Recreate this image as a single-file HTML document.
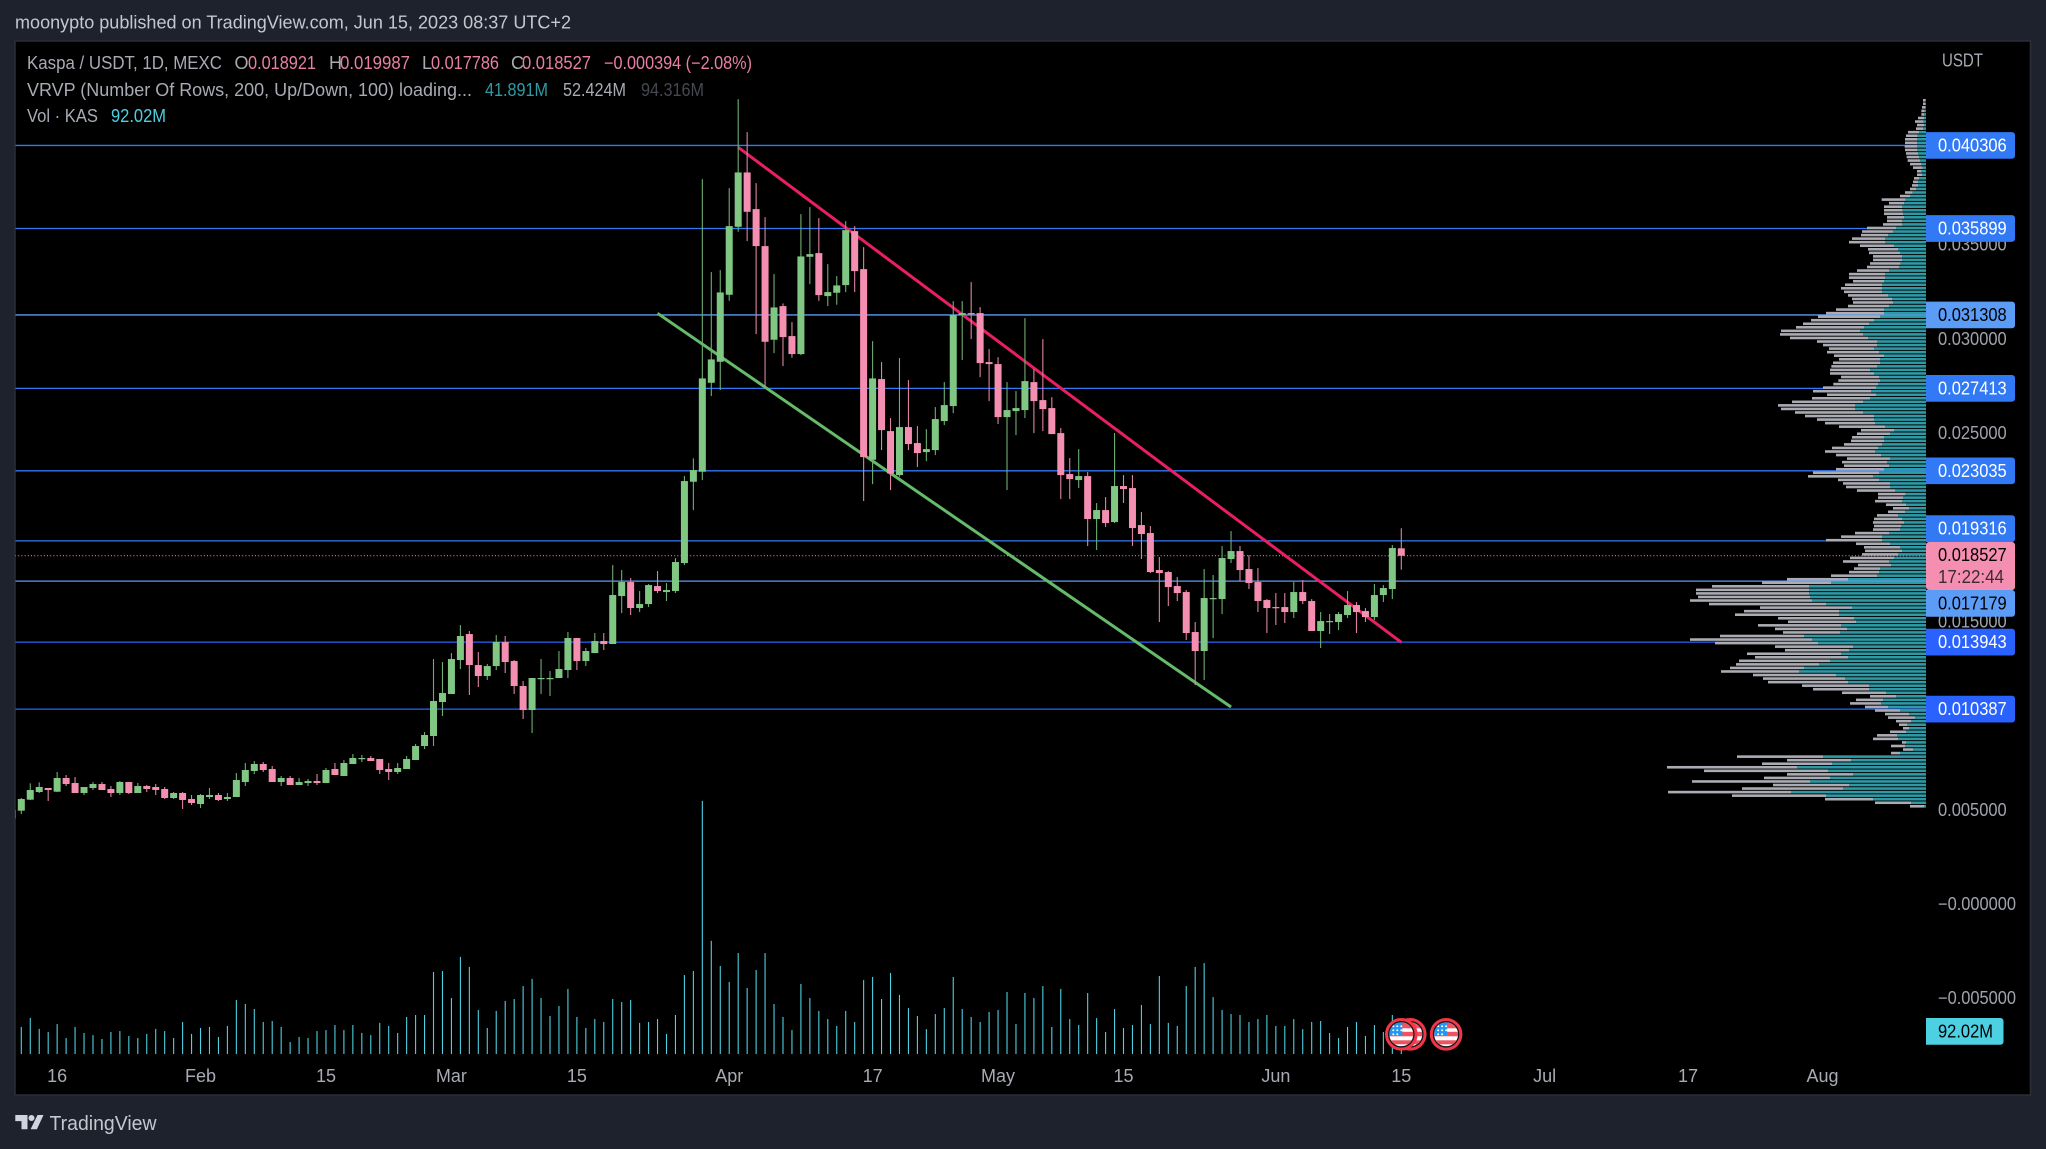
<!DOCTYPE html>
<html lang="en">
<head>
<meta charset="utf-8">
<title>Kaspa / USDT chart</title>
<style>
html,body{margin:0;padding:0;background:#1e222d;width:2046px;height:1149px;overflow:hidden}
svg{display:block;font-family:"Liberation Sans",sans-serif}
.legend{font-size:18px;fill:#a8abb4}
.pink{fill:#e8809f}
.tick{font-size:18px;fill:#a0a3ac}
.axis{font-size:18px;fill:#a8abb4}
.lvl-strong{stroke:#2962ff;fill:#2962ff}
.lvl-mid{stroke:#3179f5;fill:#3179f5}
.lvl-light{stroke:#5b9cf6;fill:#5b9cf6}
</style>
</head>
<body>
<svg id="chart" xmlns="http://www.w3.org/2000/svg" width="2046" height="1149" viewBox="0 0 2046 1149">
  <defs>
    <clipPath id="plot-clip"><rect x="15.5" y="41.5" width="2015" height="1053"/></clipPath>
    <clipPath id="flag-clip"><circle cx="0" cy="0" r="12"/></clipPath>
    <g id="flag-symbol">
      <circle cx="0" cy="0" r="14.8" fill="#131722" stroke="#f23645" stroke-width="3"/>
      <g clip-path="url(#flag-clip)">
        <rect x="-12" y="-12" width="24" height="24" fill="#fff"/>
        <rect x="-12" y="-12" width="24" height="6" fill="#f0535d"/>
        <rect x="-12" y="-2.5" width="24" height="4.5" fill="#f0535d"/>
        <rect x="-12" y="6" width="24" height="4" fill="#f0535d"/>
        <rect x="-12" y="-12" width="13" height="13" fill="#2196f3"/>
        <circle cx="-8" cy="-8" r="1" fill="#fff"/><circle cx="-4" cy="-8" r="1" fill="#fff"/><circle cx="0" cy="-8" r="1" fill="#fff"/>
        <circle cx="-8" cy="-4" r="1" fill="#fff"/><circle cx="-4" cy="-4" r="1" fill="#fff"/><circle cx="0" cy="-4" r="1" fill="#fff"/>
        <circle cx="-8" cy="0" r="1" fill="#fff"/><circle cx="-4" cy="0" r="1" fill="#fff"/>
      </g>
    </g>
  </defs>

  <rect x="0" y="0" width="2046" height="1149" fill="#1e222d"/>
  <text x="15" y="28.5" font-size="18" fill="#c4c7cf" textLength="556" lengthAdjust="spacingAndGlyphs">moonypto published on TradingView.com, Jun 15, 2023 08:37 UTC+2</text>
  <rect x="15" y="41" width="2015.5" height="1054" fill="#000" stroke="#2a2e39" stroke-width="1.5"/>

  <g id="levels" clip-path="url(#plot-clip)"></g>
  <g id="trendlines" clip-path="url(#plot-clip)"></g>
  <g id="volumes" clip-path="url(#plot-clip)"></g>
  <g id="candles" clip-path="url(#plot-clip)"></g>
  <g id="profile"></g>
  <g id="flags"></g>
  <g id="price-ticks"></g>
  <g id="time-ticks"></g>
  <g id="level-labels"></g>

  <g>
    <rect id="current-box" x="1926" y="542" width="89" height="48" rx="3" fill="#f48fb1"/>
    <text id="current-text" x="1938" y="561" font-size="18" fill="#000" textLength="68.7" lengthAdjust="spacingAndGlyphs">0.018527</text>
    <text x="1938" y="583" font-size="18" fill="#3c2a31" textLength="66" lengthAdjust="spacingAndGlyphs">17:22:44</text>
  </g>

  <g>
    <path d="M1926 1018h74.5a3 3 0 0 1 3 3v20.7a3 3 0 0 1-3 3h-74.5z" fill="#4dd0e1"/>
    <text x="1938" y="1037.5" font-size="18" fill="#000" textLength="55" lengthAdjust="spacingAndGlyphs">92.02M</text>
  </g>

  <text x="1942" y="66.5" font-size="18" fill="#a8abb4" textLength="41" lengthAdjust="spacingAndGlyphs">USDT</text>

  <g>
    <text class="legend" x="27" y="69" textLength="195" lengthAdjust="spacingAndGlyphs">Kaspa / USDT, 1D, MEXC</text>
    <text class="legend" x="234.5" y="69">O</text>
    <text class="legend pink" x="248" y="69" textLength="68" lengthAdjust="spacingAndGlyphs">0.018921</text>
    <text class="legend" x="329" y="69">H</text>
    <text class="legend pink" x="340" y="69" textLength="70" lengthAdjust="spacingAndGlyphs">0.019987</text>
    <text class="legend" x="422" y="69">L</text>
    <text class="legend pink" x="431" y="69" textLength="68" lengthAdjust="spacingAndGlyphs">0.017786</text>
    <text class="legend" x="511" y="69">C</text>
    <text class="legend pink" x="522" y="69" textLength="69" lengthAdjust="spacingAndGlyphs">0.018527</text>
    <text class="legend pink" x="604" y="69" textLength="148" lengthAdjust="spacingAndGlyphs">−0.000394 (−2.08%)</text>
    <text class="legend" x="27" y="96" textLength="445" lengthAdjust="spacingAndGlyphs">VRVP (Number Of Rows, 200, Up/Down, 100) loading...</text>
    <text class="legend" x="485" y="96" style="fill:#2f9aa5" textLength="63" lengthAdjust="spacingAndGlyphs">41.891M</text>
    <text class="legend" x="563" y="96" textLength="63" lengthAdjust="spacingAndGlyphs">52.424M</text>
    <text class="legend" x="641" y="96" style="fill:#46484f" textLength="63" lengthAdjust="spacingAndGlyphs">94.316M</text>
    <text class="legend" x="27" y="122" textLength="71" lengthAdjust="spacingAndGlyphs">Vol · KAS</text>
    <text class="legend" x="111" y="122" style="fill:#4dd0e1" textLength="55" lengthAdjust="spacingAndGlyphs">92.02M</text>
  </g>

  <g>
    <path d="M15.3 1115h12.2v14.3h-6v-8.2h-6.2z" fill="#d1d4dc"/>
    <circle cx="31.5" cy="1118" r="3" fill="#d1d4dc"/>
    <path d="M37.5 1115h6l-6.6 14.3h-6.3z" fill="#d1d4dc"/>
    <text x="49.5" y="1130" font-size="20" fill="#c4c7cf" textLength="107" lengthAdjust="spacingAndGlyphs">TradingView</text>
  </g>
</svg>

<script>
// Prices below are in micro-USDT (1e-6). One entry per day from firstDate.
const firstDate = '2023-01-11';
const opens = [4589,
4996,5580,5987,6199,6004,6730,6464,5934,6199,6411,
6146,5934,6517,5934,6305,6252,6146,5668,5934,5615,
5350,5721,5827,5615,5721,6517,7101,7473,7207,6517,
6730,6358,6464,6570,6464,7207,6836,7473,7738,7791,
7738,7207,7048,7207,7685,8428,8959,10763,11188,12992,
14372,12726,12143,12673,13947,12939,11612,10338,11984,11984,
12037,12461,14160,12939,13363,14000,13841,16388,17131,15752,
15964,16919,16601,16654,18139,22455,22986,27709,28824,32380,
35988,38872,36926,34962,29992,31778,30186,29231,34396,34591,
32309,32486,32892,35758,33741,23623,27904,25144,22809,25357,
24508,24030,24136,25675,26471,31300,31407,31407,28806,28700,
25887,26206,26259,27744,26789,26365,25038,22863,22544,22757,
20475,20952,20316,22226,22120,20156,19732,17768,17662,16919,
16600,14478,13469,16229,16229,18352,18776,17821,17131,16176,
15804,15804,15539,16600,16123,14531,15009,15009,15380,15911,
15592,15274,16441,16760,18921];
const highs = [5031,
5668,6446,6499,6199,7048,6889,6783,6252,6517,6517,
6305,6570,6517,6464,6358,6411,6252,5987,5987,5827,
5880,6199,5934,5934,6995,7526,7632,7579,7366,6836,
6836,6730,6676,6942,7260,7526,7685,8003,7950,7897,
7738,7526,7526,7897,8534,9171,13045,12886,13363,14849,
14531,13417,12780,14319,14266,12992,11878,12037,13045,12408,
13470,14478,14160,13629,14425,14425,18034,17768,17344,16654,
17025,17715,17078,18400,22756,23694,38518,33583,33688,38040,
42764,41012,38306,36501,33476,31920,30929,36660,37032,36448,
34007,33370,36289,36024,34909,29921,28806,25834,29018,27851,
25410,25251,26418,27744,32043,32043,33052,31725,29496,29071,
27744,27267,31141,28435,30027,26949,25303,23712,24190,22969,
21324,21642,25039,22810,22810,20846,20103,18458,17715,17397,
16707,15009,17821,17503,19042,19838,19042,18564,17874,16229,
16547,16547,17131,17237,16229,15539,15433,15539,16654,16070,
15751,17025,16972,19095,19987];
const lows = [4589,
4819,5562,5934,5509,5987,6305,5934,5827,6093,6093,
5721,5827,5880,5934,5987,5827,5615,5615,5084,5297,
5137,5615,5509,5509,5721,6305,6942,7048,6517,6305,
6358,6358,6305,6358,6464,6889,6836,7473,7579,7632,
6942,6623,6942,7207,7685,8269,8428,10020,11188,12514,
11135,11559,11931,12461,12302,11188,9861,9118,11188,11082,
12037,12037,12461,12673,13363,13523,13841,15486,15380,15539,
15805,16548,16123,16548,18033,20951,22544,27002,27320,32061,
35723,35228,30292,27497,29284,28594,29036,29178,32945,32061,
31778,31849,32521,32521,21430,22332,24136,22013,22720,24136,
23234,23552,23871,25463,26099,28912,30027,28010,26736,25516,
22013,24932,25834,25038,25144,24985,21535,21536,22120,19042,
18830,20050,20262,21324,19042,18352,17609,15009,15857,16123,
14053,11665,11930,14159,15433,18140,17184,16760,15539,14425,
14849,14955,15221,15964,14531,13629,14372,14584,15221,14425,
15009,15115,16070,16229,17786];
const closes = [5031,
5615,6093,6252,6093,6730,6411,5934,6252,6411,6093,
5934,6517,5934,6305,6146,6093,5668,5934,5562,5403,
5827,5827,5562,5721,6623,7154,7473,7154,6517,6730,
6358,6517,6570,6464,7154,6889,7526,7791,7791,7632,
7154,7048,7260,7738,8428,9012,10816,11241,13045,14266,
12726,12143,12673,13947,12886,11612,10338,12037,12037,12037,
12514,14160,12939,13470,14000,13841,16442,17131,15752,15964,
16972,16654,16707,18193,22491,23074,27939,28948,32503,36024,
38872,36784,34962,29885,31707,30133,29231,34414,34538,32362,
32521,32875,35811,33635,23764,27939,25197,22897,25357,24455,
23977,24189,25781,26524,31300,31407,31354,28753,28700,25887,
26259,26365,27798,26736,26312,24985,22809,22597,22757,20475,
20952,20262,22226,22067,19997,19679,17662,17609,16866,16547,
14425,13469,16282,16282,18405,18776,17768,17078,16123,15751,
15751,15539,16600,16123,14531,15061,15061,15433,15911,15539,
15274,16441,16813,18936,18527];
// Daily volume, millions of KAS
const volumes = [100,
113,151,105,92,125,67,113,88,79,63,
92,96,75,67,84,105,96,67,134,84,
109,113,71,117,226,209,188,134,138,113,
50,71,67,96,100,121,100,121,88,79,
130,117,88,155,163,163,343,347,234,406,
364,184,109,180,222,230,284,314,234,159,
201,272,155,109,146,134,230,217,226,130,
134,146,84,163,330,347,1058,473,368,301,
422,276,351,422,209,155,100,293,234,180,
146,117,180,134,309,322,230,339,247,192,
159,104,167,192,322,188,155,134,176,184,
259,125,255,234,284,113,272,146,121,255,
150,92,188,109,121,205,125,326,130,117,
284,364,380,238,184,167,163,134,146,163,
117,117,146,104,134,138,88,67,113,134,
75,121,92,163,92];
// Volume profile rows, top price row to bottom price row
const profileUp = [3,3,3,4,5,6,7,6,8,20,
25,26,26,26,26,24,20,18,13,10,
13,12,20,24,24,30,40,48,61,66,
72,70,68,65,71,71,90,98,113,122,
123,96,84,78,72,72,76,81,111,123,
123,126,132,132,132,114,102,99,111,126,
126,138,156,171,186,198,189,174,147,147,
156,141,126,138,138,147,168,156,141,138,
143,150,165,150,168,189,213,213,189,156,
156,153,123,96,108,126,126,132,144,153,
135,108,117,111,126,141,159,141,108,108,
93,61,69,72,60,51,63,84,72,66,
75,78,111,132,132,108,78,72,84,96,
111,105,138,141,147,234,285,351,351,351,
348,342,300,222,261,261,216,210,255,237,
258,366,342,324,219,231,255,234,288,321,
366,381,270,243,234,171,171,120,90,129,
135,114,78,51,33,45,57,51,60,87,
84,60,63,39,78,309,225,282,387,294,
219,288,348,231,249,405,300,159,45,6];
const profileDown = [6,6,9,10,9,18,26,21,22,34,
35,37,37,38,37,36,38,37,35,29,
14,15,16,15,18,18,23,30,72,45,
54,56,58,52,46,58,87,94,82,100,
108,102,90,93,87,87,92,96,96,108,
108,93,111,123,114,120,120,120,123,144,
174,186,189,198,204,237,249,234,180,162,
135,156,150,123,141,137,120,132,114,125,
135,159,174,147,174,213,231,222,204,207,
171,150,138,99,99,96,99,114,138,150,
135,129,135,135,144,198,195,123,141,132,
114,83,75,81,60,48,51,63,84,93,
81,81,102,123,168,102,108,111,108,132,
138,99,78,90,138,183,207,291,339,339,
336,366,351,276,285,312,228,204,249,216,
171,252,366,309,234,192,282,279,273,249,
222,234,249,246,240,201,168,132,78,81,
93,69,75,72,81,45,24,18,48,60,
75,12,42,30,27,258,192,210,390,372,
198,198,354,228,303,369,282,144,108,42];
const profileTopPrice = 0.042797;
const profileBottomPrice = 0.005133;
// Price levels, grouped by their line style
const strongLevels = [0.013943, 0.010387];
const midLevels = [0.040306, 0.035899, 0.027413, 0.023035, 0.019316];
const lightLevels = [0.031308, 0.017179];
const lastPrice = 0.018527;
// Trendlines
const redTrendDates = ['2023-04-02', '2023-06-15'];
const redTrendPrices = [0.040207, 0.013933];
const greenTrendDates = ['2023-03-24', '2023-05-27'];
const greenTrendPrices = [0.031396, 0.010499];
// Axis ticks
const priceTickValues = [0.04, 0.035, 0.03, 0.025, 0.02, 0.015, 0.01, 0.005, 0, -0.005];
const priceTickLabels = ['0.040000','0.035000','0.030000','0.025000','0.020000','0.015000','0.010000','0.005000','−0.000000','−0.005000'];
const timeTickDates = ['2023-01-16','2023-02-01','2023-02-15','2023-03-01','2023-03-15','2023-04-01','2023-04-17','2023-05-01','2023-05-15','2023-06-01','2023-06-15','2023-07-01','2023-07-17','2023-08-01'];
const timeTickLabels = ['16','Feb','15','Mar','15','Apr','17','May','15','Jun','15','Jul','17','Aug'];
const flagDates = ['2023-06-20', '2023-06-16', '2023-06-15'];

const NS = 'http://www.w3.org/2000/svg';
const MICRO = 1e-6;
const DAY = 86400000;
const BAR_STEP = 8.961;
const BAR_ORIGIN = 12.34;
const BODY_W = 7;
const VOL_BASE = 1054;
const VOL_PX_PER_M = 1 / 4.18;
const PROFILE_RIGHT = 1926;
const PROFILE_MAX_W = 259;
const LABEL_H = 26.7;

function xByIndex(i) { return BAR_ORIGIN + BAR_STEP * i; }
function dateIndex(d) { return Math.round((Date.parse(d) - Date.parse(firstDate)) / DAY); }
function xByDate(d) { return xByIndex(dateIndex(d)); }
function yScale(p) { return 904.8 - p * 18840; }
function volHeight(v) { return v * VOL_PX_PER_M; }
function make(parent, tag, attrs) {
  const el = document.createElementNS(NS, tag);
  for (const k in attrs) el.setAttribute(k, attrs[k]);
  parent.appendChild(el);
  return el;
}

const levelsG = document.getElementById('levels');
const labelsG = document.getElementById('level-labels');
const curBoxTop = 542;
const curBoxBottom = 590;

function drawLevel(price, cls) {
  const y = yScale(price);
  const line = make(levelsG, 'line', {x1: 15, x2: PROFILE_RIGHT, y1: y, y2: y, class: cls, 'stroke-width': 1.3});
  
  
  let top = y - LABEL_H / 2;
  if (y < yScale(lastPrice) && top + LABEL_H > curBoxTop) top = curBoxTop - LABEL_H;
  if (y > yScale(lastPrice) && top < curBoxBottom) top = curBoxBottom;
  const box = make(labelsG, 'path', {class: cls, stroke: 'none',
    d: 'M' + PROFILE_RIGHT + ' ' + top + 'h86a3 3 0 0 1 3 3v' + (LABEL_H - 6) + 'a3 3 0 0 1-3 3h-86z', style: 'stroke:none'});
  
  
  const txt = make(labelsG, 'text', {x: 1938, y: top + LABEL_H / 2 + 6, 'font-size': 18, fill: cls === 'lvl-light' ? '#000' : '#fff', textLength: 68.7, lengthAdjust: 'spacingAndGlyphs'});
  
  
  txt.textContent = price.toFixed(6);
}

// price axis labels are painted under the level labels
const priceTicksG = document.getElementById('price-ticks');
priceTickValues.forEach(function (v, i) {
  const negative = priceTickLabels[i].charAt(0) === '−';
  const t = make(priceTicksG, 'text', {x: negative ? 1938 : 1938, y: yScale(v) + 5.2, class: 'tick', textLength: negative ? 78 : 68.7, lengthAdjust: 'spacingAndGlyphs'});
  
  
  t.textContent = priceTickLabels[i];
});

midLevels.forEach(function (p) { drawLevel(p, 'lvl-mid'); });
lightLevels.forEach(function (p) { drawLevel(p, 'lvl-light'); });
strongLevels.forEach(function (p) { drawLevel(p, 'lvl-strong'); });

const lastLine = make(levelsG, 'line', {x1: 15, x2: PROFILE_RIGHT, y1: yScale(lastPrice), y2: yScale(lastPrice), stroke: '#f48fb1', 'stroke-width': 1, 'stroke-dasharray': '1 2.2'});


const curBoxY = yScale(lastPrice);
document.getElementById('current-text').setAttribute('y', curBoxY + 5.2);
document.getElementById('current-text').textContent = lastPrice.toFixed(6);

// trendlines
const trendG = document.getElementById('trendlines');
const redTrend = make(trendG, 'line', {x1: xByDate(redTrendDates[0]), y1: yScale(redTrendPrices[0]), x2: xByDate(redTrendDates[1]), y2: yScale(redTrendPrices[1]), stroke: '#e91e63', 'stroke-width': 3});


const greenTrend = make(trendG, 'line', {x1: xByDate(greenTrendDates[0]), y1: yScale(greenTrendPrices[0]), x2: xByDate(greenTrendDates[1]), y2: yScale(greenTrendPrices[1]), stroke: '#66bb6a', 'stroke-width': 3});



// volume bars
const volG = document.getElementById('volumes');
volumes.forEach(function (v, i) {
  const x = xByIndex(i);
  const bar = make(volG, 'line', {x1: x, x2: x, y1: VOL_BASE, y2: VOL_BASE - volHeight(v), stroke: '#4dd0e1', 'stroke-width': 1.1});
  
  
});

// candles
const candleG = document.getElementById('candles');
opens.forEach(function (o, i) {
  const c = closes[i];
  const up = c >= o;
  const x = xByIndex(i);
  const wick = make(candleG, 'line', {x1: x, x2: x, y1: yScale(highs[i] * MICRO), y2: yScale(lows[i] * MICRO), stroke: up ? '#6fae73' : '#dd83a2', 'stroke-width': 1.1});
  
  
  const yTop = yScale(Math.max(o, c) * MICRO);
  const yBot = yScale(Math.min(o, c) * MICRO);
  const body = make(candleG, 'rect', {x: x - BODY_W / 2, y: yTop, width: BODY_W, height: Math.max(yBot - yTop, 1.2), fill: up ? '#81c784' : '#f48fb1'});
  
  
});

// volume profile
const profG = document.getElementById('profile');
let profileMax = 0;
profileUp.forEach(function (u, i) { profileMax = Math.max(profileMax, u + profileDown[i]); });
const profTopY = yScale(profileTopPrice);
const rowH = (yScale(profileBottomPrice) - profTopY) / profileUp.length;
profileUp.forEach(function (u, i) {
  const y = profTopY + rowH * i + 0.45;
  const upW = u / profileMax * PROFILE_MAX_W;
  const downW = profileDown[i] / profileMax * PROFILE_MAX_W;
  const down = make(profG, 'rect', {x: PROFILE_RIGHT - upW - downW, y: y, width: downW, height: rowH - 0.95, fill: '#aaabb3'});
  
  
  const upR = make(profG, 'rect', {x: PROFILE_RIGHT - upW, y: y, width: upW, height: rowH - 0.95, fill: '#2f9aa5'});
  
  
});

// flags
const flagsG = document.getElementById('flags');
flagDates.forEach(function (d) {
  const f = make(flagsG, 'use', {href: '#flag-symbol', x: xByDate(d), y: 1034.3});
  
  
});

// time axis
const timeG = document.getElementById('time-ticks');
timeTickDates.forEach(function (d, i) {
  const t = make(timeG, 'text', {x: xByDate(d), y: 1082, class: 'axis', 'text-anchor': 'middle'});
  
  
  t.textContent = timeTickLabels[i];
});
</script>
</body>
</html>
